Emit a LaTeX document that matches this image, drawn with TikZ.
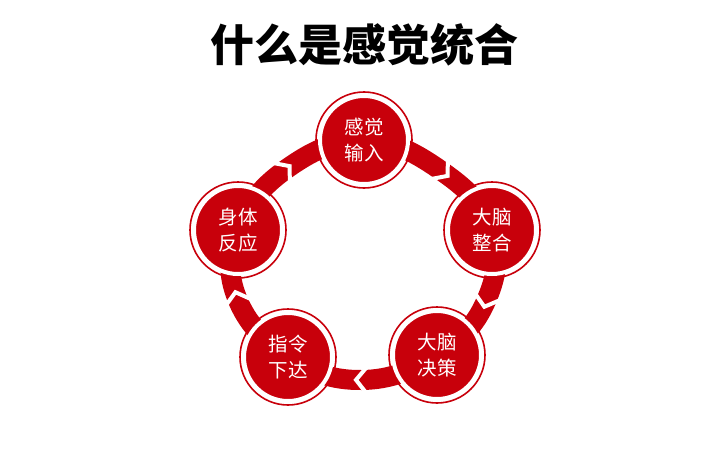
\documentclass[tikz,border=0pt]{standalone}
\usepackage{fontspec}
\setmainfont{Noto Sans CJK SC}
\definecolor{myred}{HTML}{C8000B}
\begin{document}
\begin{tikzpicture}[x=1pt,y=1pt,
  stage/.style={circle,fill=myred,draw=white,line width=4pt,minimum size=88pt,inner sep=0pt,
    text=white,font=\fontsize{19.5}{26}\selectfont,align=center},
  rim/.style={myred,line width=1.6pt},
  chev/.style={white,line width=4pt}]
\useasboundingbox (0,0) rectangle (728,451);
\node (title) at (364,406) {\fontsize{44}{50}\selectfont\bfseries 什么是感觉统合};
\draw[myred,line width=20pt] plot[smooth cycle,tension=0.7] coordinates
  {(364,311) (443,279) (492,221) (486,150) (437,96) (362,71) (288,94) (237,153) (238,221) (285,281)};
\foreach \px/\py/\a in {443/279/-40,486/150/-106,362/71/-181,237/153/105,285/281/40}{
  \begin{scope}[shift={(\px,\py)},rotate=\a]
    \draw[chev] (-7,16) -- (6,0) -- (-7,-16);
  \end{scope}}
\node[stage] (a) at (364,311) {感觉\\输入};
\node[stage] (b) at (492,221) {大脑\\整合};
\node[stage] (c) at (437,96) {大脑\\决策};
\node[stage] (d) at (288,94) {指令\\下达};
\node[stage] (e) at (238,221) {身体\\反应};
\foreach \n in {a,b,c,d,e} \draw[rim] (\n.center) circle (48);
\end{tikzpicture}
\end{document}
